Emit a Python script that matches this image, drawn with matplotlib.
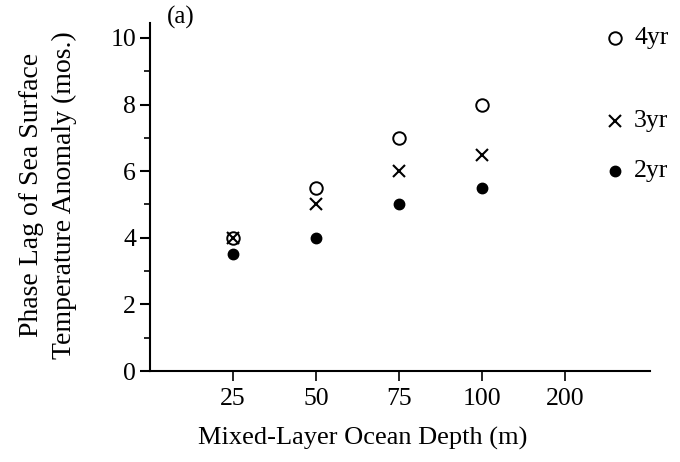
import matplotlib
matplotlib.use("Agg")
import matplotlib.pyplot as plt

depths = ["25", "50", "75", "100", "200"]
series_names = ["4yr", "3yr", "2yr"]
lag_4yr = [4, 5.5, 7, 8]
lag_3yr = [4, 5, 6, 6.5]
lag_2yr = [3.5, 4, 5, 5.5]
legend_y = [10, 7.5, 6]

plt.rcParams['font.family'] = ['Liberation Serif', 'DejaVu Serif']

fig = plt.figure(figsize=(6.8, 4.62), dpi=100)
ax = fig.add_axes([150/680, 1-371/462, 500/680, (371-23)/462])

xs = list(range(1, len(depths) + 1))
styles = [
    dict(marker='o', mfc='white', mec='black', ms=9, mew=1.4, ls='none'),
    dict(marker='x', color='black', ms=9, mew=1.5, ls='none'),
    dict(marker='o', mfc='black', mec='black', ms=7.5, ls='none'),
]
for vals, st in zip([lag_4yr, lag_3yr, lag_2yr], styles):
    ax.plot(xs[:len(vals)], vals, **st, clip_on=False)

# legend keys
for name, ly, st in zip(series_names, legend_y, styles):
    ax.plot([5.6], [ly], **st, clip_on=False)
    ax.text(5.83, ly, name, fontsize=18.5, va='center', ha='left')

ax.set_xlim(0, 6.02)
ax.set_ylim(0, 10.45)
ax.set_xticks(xs)
ax.set_xticklabels(depths, fontsize=18.5)
ax.set_yticks([0, 2, 4, 6, 8, 10])
ax.set_yticks([1, 3, 5, 7, 9], minor=True)
ax.tick_params(axis='y', which='major', length=7, width=1.5, labelsize=18.5, pad=3)
ax.tick_params(axis='y', which='minor', length=4.5, width=1.2)
ax.tick_params(axis='x', which='major', length=7, width=1.2, labelsize=18.5, pad=5)
for s in ['top', 'right']:
    ax.spines[s].set_visible(False)
for s in ['left', 'bottom']:
    ax.spines[s].set_linewidth(1.5)

ax.set_xlabel("Mixed-Layer Ocean Depth (m)", fontsize=19)
ax.xaxis.set_label_coords(0.426, -0.161)
ax.set_ylabel("Phase Lag of Sea Surface\nTemperature Anomaly (mos.)", fontsize=20,
              linespacing=1.42)
ax.yaxis.set_label_coords(-0.146, 0.505)
ax.text(0.033, 1.015, "(a)", transform=ax.transAxes, fontsize=18, va='center', ha='left')

fig.savefig("out.png", dpi=100)
